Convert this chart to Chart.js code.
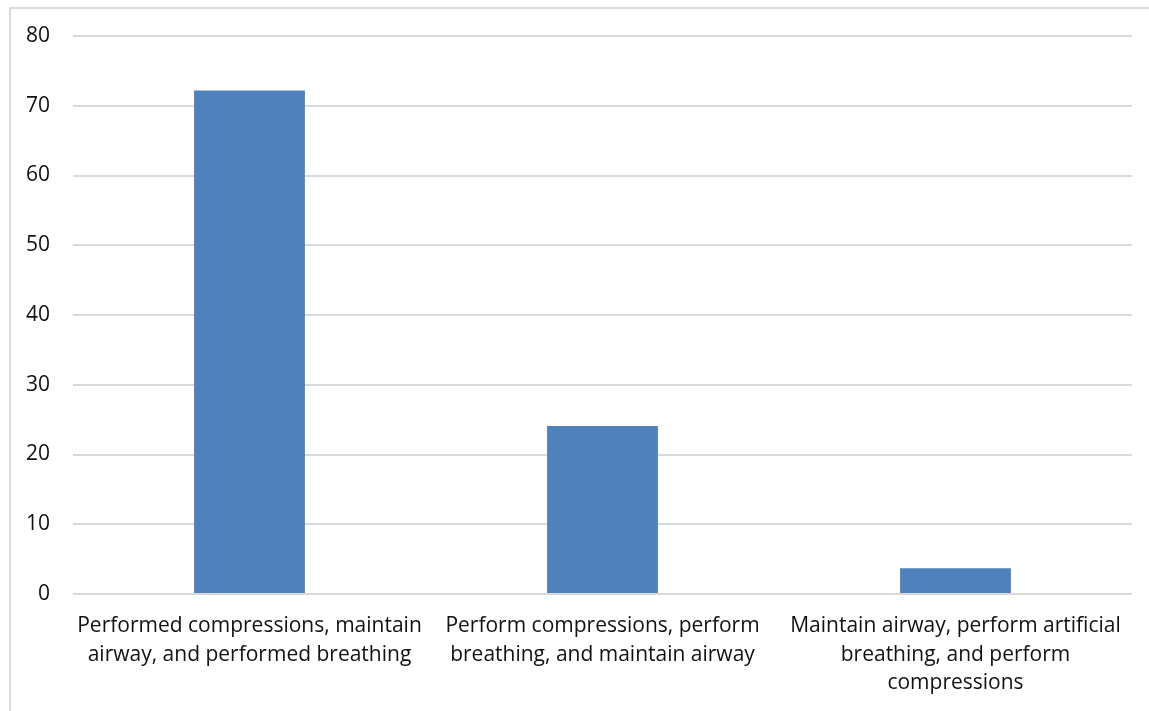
<!DOCTYPE html>
<html>
<head>
<meta charset="utf-8">
<script src="https://cdn.jsdelivr.net/npm/chart.js@4/dist/chart.umd.min.js"></script>
<style>
  html, body { margin: 0; padding: 0; background: #fff; }
  #frame {
    position: absolute; left: 9px; top: 7px; width: 1200px; height: 800px;
    border-left: 2px solid #d9d9d9; border-top: 2px solid #d9d9d9;
  }
  #wrap { position: absolute; left: 0; top: 0; width: 1149px; height: 711px; }
</style>
</head>
<body>
<div id="frame"></div>
<div id="wrap"><canvas id="cprChart"></canvas></div>
<script>
// Order of steps reported (percent of respondents)
var categories = [
    ["Performed compressions, maintain", "airway, and performed breathing"],
    ["Perform compressions, perform", "breathing, and maintain airway"],
    ["Maintain airway, perform artificial", "breathing, and perform", "compressions"]
];
var percentages = [72.2, 24.1, 3.7];
var yTicks = [0, 10, 20, 30, 40, 50, 60, 70, 80];

Chart.defaults.font.family = "'Open Sans', Lato, sans-serif";
Chart.defaults.color = "#111";

document.addEventListener('DOMContentLoaded', function() {
    var ctx = document.getElementById("cprChart");
    new Chart(ctx, {
        type: 'bar',
        data: {
            labels: categories,
            datasets: [{
                label: "Percent",
                backgroundColor: "#4f81bd",
                borderWidth: 0,
                data: percentages,
                categoryPercentage: 1,
                barPercentage: 0.314
            }]
        },
        options: {
            responsive: true,
            maintainAspectRatio: false,
            animation: false,
            layout: { padding: { top: 36, right: 17, left: 0, bottom: 0 } },
            scales: {
                x: {
                    grid: { display: false },
                    border: { display: false },
                    ticks: {
                        maxRotation: 0,
                        autoSkip: false,
                        padding: 10,
                        font: { size: 21, lineHeight: 1.36 }
                    },
                    afterFit: function(scale) { scale.height = 117; }
                },
                y: {
                    min: 0,
                    max: 80,
                    afterBuildTicks: function(scale) {
                        scale.ticks = yTicks.map(function(v) { return { value: v }; });
                    },
                    grid: { color: "#d9d9d9", lineWidth: 2, drawTicks: false },
                    border: { display: false },
                    ticks: { padding: 23, font: { size: 21 } },
                    afterFit: function(scale) { scale.width = 73; }
                }
            },
            plugins: {
                legend: { display: false },
                tooltip: { enabled: false }
            }
        }
    });
});
</script>
</body>
</html>
